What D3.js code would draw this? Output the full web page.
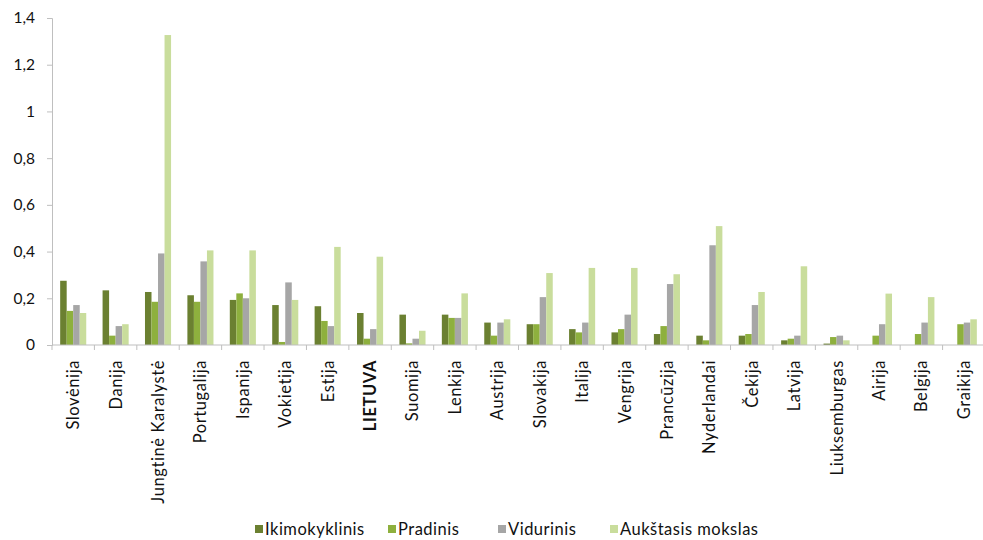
<!DOCTYPE html>
<html><head><meta charset="utf-8">
<script src="https://cdn.jsdelivr.net/npm/d3@7"></script>
<style>body{margin:0;background:#fff}svg{display:block}text{font-family:Lato,"Noto Sans",sans-serif;fill:#111}</style>
</head><body><svg id="c" width="983" height="540"></svg>
<script>
const categories=["Slovėnija","Danija","Jungtinė Karalystė","Portugalija","Ispanija","Vokietija","Estija","LIETUVA","Suomija","Lenkija","Austrija","Slovakija","Italija","Vengrija","Prancūzija","Nyderlandai","Čekija","Latvija","Liuksemburgas","Airija","Belgija","Graikija"];
const seriesNames=["Ikimokyklinis","Pradinis","Vidurinis","Aukštasis mokslas"];
const ikimokyklinis=[0.275,0.234,0.227,0.213,0.193,0.171,0.166,0.137,0.130,0.130,0.096,0.089,0.068,0.054,0.047,0.040,0.040,0.020,0.006,0,0,0];
const pradinis=[0.146,0.040,0.185,0.185,0.221,0.013,0.103,0.027,0.007,0.116,0.040,0.089,0.054,0.068,0.081,0.020,0.047,0.027,0.034,0.040,0.047,0.089];
const vidurinis=[0.171,0.081,0.392,0.358,0.200,0.268,0.081,0.068,0.027,0.116,0.096,0.205,0.096,0.130,0.261,0.427,0.171,0.040,0.040,0.089,0.096,0.096];
const aukstasis=[0.137,0.089,1.327,0.405,0.405,0.193,0.420,0.378,0.061,0.221,0.110,0.308,0.330,0.330,0.303,0.509,0.227,0.337,0.020,0.220,0.205,0.110];
const yTicks=[0,0.2,0.4,0.6,0.8,1,1.2,1.4];
const colors=["#6b8031","#8eb03e","#a6a6a6","#c9dd9c"];
const series=[ikimokyklinis,pradinis,vidurinis,aukstasis];

const svg=d3.select("#c");
const x=d3.scaleBand().domain(categories).range([52,985]).paddingInner(0).paddingOuter(0);
const groupW=x.bandwidth()*0.615;
const x1=d3.scaleBand().domain(seriesNames).range([(x.bandwidth()-groupW)/2,(x.bandwidth()+groupW)/2]).padding(0);
const y=d3.scaleLinear().domain([0,1.4]).range([345,18]);
const axisColor="#bfbfbf";

// y axis
const ya=svg.append("g").attr("transform","translate(52,0)")
  .call(d3.axisLeft(y).tickValues(yTicks).tickSize(5).tickPadding(12)
    .tickFormat(d=>String(+d.toFixed(1)).replace(".",",")));
ya.select(".domain").attr("stroke",axisColor);
ya.selectAll(".tick line").attr("stroke",axisColor);
ya.selectAll(".tick text").style("font-size","15.5px").attr("fill","#111");

// bars
const g=svg.append("g");
categories.forEach((c,i)=>{
  seriesNames.forEach((s,j)=>{
    const v=series[j][i];
    g.append("rect").attr("x",x(c)+x1(s)).attr("width",x1.bandwidth())
      .attr("y",y(v)).attr("height",y(0)-y(v)).attr("fill",colors[j]);
  });
});

// x axis
const xg=svg.append("g").attr("transform","translate(0,345)");
xg.append("line").attr("x1",52).attr("x2",985).attr("stroke",axisColor);
const bounds=categories.map(c=>x(c)).concat([x.range()[1]]);
xg.selectAll("line.t").data(bounds).join("line").attr("class","t")
  .attr("x1",d=>d).attr("x2",d=>d).attr("y1",0).attr("y2",5).attr("stroke",axisColor);
xg.selectAll("text.l").data(categories).join("text").attr("class","l")
  .attr("transform",d=>`translate(${x(d)+x.bandwidth()/2+6},15) rotate(-90)`)
  .attr("text-anchor","end").style("font-size","16.5px").style("letter-spacing","0.6px")
  .style("font-weight",d=>d==="LIETUVA"?"bold":"normal").text(d=>d);

// legend
const legX=[255,388,498,610];
const lg=svg.append("g");
seriesNames.forEach((s,j)=>{
  lg.append("rect").attr("x",legX[j]).attr("y",525).attr("width",8).attr("height",8).attr("fill",colors[j]);
  lg.append("text").attr("x",legX[j]+10).attr("y",535).style("font-size","16.5px").style("letter-spacing","0.5px").text(s);
});
</script></body></html>
